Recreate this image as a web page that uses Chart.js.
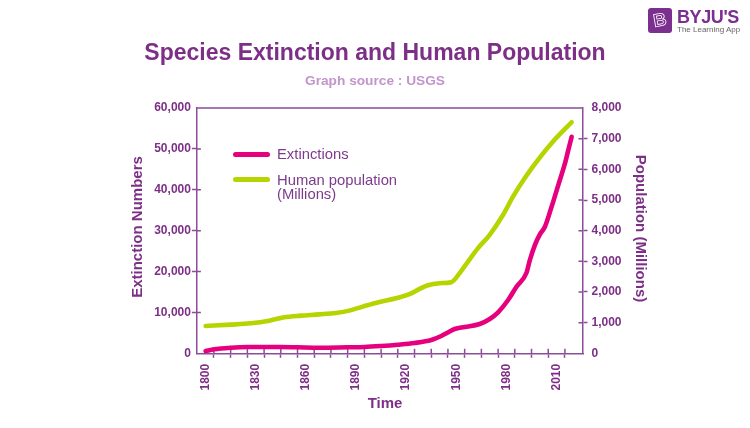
<!DOCTYPE html>
<html>
<head>
<meta charset="utf-8">
<title>Species Extinction and Human Population</title>
<script src="https://cdn.jsdelivr.net/npm/chart.js@4/dist/chart.umd.min.js"></script>
<style>
    html, body { margin: 0; padding: 0; background: #fff; }
    #wrap { position: relative; width: 750px; height: 428px; overflow: hidden; font-family: "Liberation Sans", Arial, sans-serif; }
    canvas { position: absolute; left: 0; top: 0; }
    .swatch { position: absolute; left: 233px; width: 37px; height: 5px; border-radius: 3px; }
    .legend-text { position: absolute; left: 277px; font-size: 14.8px; line-height: 14px; color: #7d3a8c; white-space: nowrap; }
    #logo-box { position: absolute; left: 648px; top: 8px; width: 24px; height: 25px; border-radius: 3px; background: #7b2f8e; }
    #logo-b { position: absolute; left: 0; top: 0; width: 24px; text-align: center; font: bold 18px/25px "Liberation Sans"; color: transparent; -webkit-text-stroke: 0.8px #fff; transform: rotate(-10deg); }
    #logo-name { position: absolute; left: 677px; top: 7px; font: bold 18px/20px "Liberation Sans"; color: #7b2f8e; letter-spacing: -0.4px; }
    #logo-sub { position: absolute; left: 677px; top: 25px; font: 8px/10px "Liberation Sans"; color: #666; }
</style>
</head>
<body>
<div id="wrap">
    <canvas id="chart" width="750" height="428"></canvas>
    <div class="swatch" style="top:152px;background:#e6007e"></div>
    <div class="legend-text" style="top:147px">Extinctions</div>
    <div class="swatch" style="top:177px;background:#b5d400"></div>
    <div class="legend-text" style="top:173px">Human population<br>(Millions)</div>
    <div id="logo-box"><div id="logo-b">B</div></div>
    <div id="logo-name">BYJU'S</div>
    <div id="logo-sub">The Learning App</div>
</div>
<script>
const extinctionYears = [1800, 1805, 1815, 1825, 1845, 1855, 1868, 1885, 1895, 1905, 1915, 1925, 1935, 1941, 1945, 1949, 1955, 1964, 1970, 1975, 1981, 1986, 1992, 1994, 1997, 2000, 2003, 2007, 2011, 2015, 2017, 2019];
const extinctionValues = [560, 980, 1370, 1540, 1540, 1470, 1370, 1470, 1540, 1780, 2100, 2520, 3250, 4230, 5100, 5940, 6430, 7160, 8390, 10020, 13030, 16280, 19700, 22800, 26480, 29100, 30950, 35840, 41150, 46450, 49700, 52960];

const populationYears = [1800, 1815, 1827, 1838, 1847, 1857, 1868, 1878, 1886, 1894, 1904, 1914, 1922, 1928, 1933, 1940, 1947, 1952, 1957, 1963, 1970, 1978, 1984, 1991, 1999, 2008, 2019];
const populationValues = [892, 935, 980, 1065, 1176, 1229, 1270, 1317, 1392, 1523, 1676, 1797, 1928, 2101, 2222, 2287, 2320, 2614, 2993, 3431, 3866, 4520, 5118, 5719, 6317, 6915, 7536];

// label sits mid band, tick marks on the band edges
const xLabelYears = [1800, 1830, 1860, 1890, 1920, 1950, 1980, 2010];
const xTickYears = [1805, 1815, 1825, 1835, 1845, 1855, 1865, 1875, 1885, 1895, 1905, 1915, 1925, 1935, 1945, 1955, 1965, 1975, 1985, 1995, 2005, 2015];

const purple = "#7d2f87";
const axisPurple = "#8b4c98";
const tickFont = { family: "Liberation Sans", size: 12, weight: "bold" };

function toPoints(xs, ys) {
    return xs.map((x, i) => ({ x: x, y: ys[i] }));
}

function yTickColor(top) {
    return ctx => (ctx.tick.value === top || ctx.tick.value === 0 ? "transparent" : axisPurple);
}

// top border and the part of each tick that crosses into the plot
const framePlugin = {
    id: "frame",
    beforeDatasetsDraw(chart) {
        const { ctx, chartArea, scales } = chart;
        ctx.save();
        ctx.strokeStyle = axisPurple;
        ctx.lineWidth = 1.5;
        ctx.beginPath();
        ctx.moveTo(chartArea.left, chartArea.top);
        ctx.lineTo(chartArea.right, chartArea.top);
        xTickYears.forEach(v => {
            const px = scales.x.getPixelForValue(v);
            ctx.moveTo(px, chartArea.bottom);
            ctx.lineTo(px, chartArea.bottom - 4.5);
        });
        scales.y.ticks.forEach(t => {
            if (t.value === 0 || t.value === 60000) return;
            const py = scales.y.getPixelForValue(t.value);
            ctx.moveTo(chartArea.left, py);
            ctx.lineTo(chartArea.left + 4.5, py);
        });
        scales.y2.ticks.forEach(t => {
            if (t.value === 0 || t.value === 8000) return;
            const py = scales.y2.getPixelForValue(t.value);
            ctx.moveTo(chartArea.right, py);
            ctx.lineTo(chartArea.right - 4.5, py);
        });
        ctx.stroke();
        ctx.restore();
    },
    // axis titles sit off centre in the original, so they are placed by hand
    afterDraw(chart) {
        const { ctx } = chart;
        ctx.save();
        ctx.fillStyle = purple;
        ctx.font = 'bold 15px "Liberation Sans"';
        ctx.textAlign = "center";
        ctx.textBaseline = "middle";
        ctx.fillText("Time", 385, 404);
        ctx.translate(138, 227);
        ctx.rotate(-Math.PI / 2);
        ctx.fillText("Extinction Numbers", 0, 0);
        ctx.rotate(Math.PI / 2);
        ctx.translate(640 - 138, 228.5 - 227);
        ctx.rotate(Math.PI / 2);
        ctx.fillText("Population (Millions)", 0, 0);
        ctx.restore();
    }
};

new Chart(document.getElementById("chart"), {
    type: "line",
    data: {
        datasets: [
            {
                label: "Extinctions",
                data: toPoints(extinctionYears, extinctionValues),
                borderColor: "#e6007e",
                yAxisID: "y"
            },
            {
                label: "Human population (Millions)",
                data: toPoints(populationYears, populationValues),
                borderColor: "#b5d400",
                yAxisID: "y2"
            }
        ]
    },
    options: {
        responsive: false,
        animation: false,
        layout: { padding: { left: 100, right: 100, top: 0, bottom: 0 } },
        elements: {
            point: { radius: 0 },
            line: { borderWidth: 4.6, borderCapStyle: "round", borderJoinStyle: "round", cubicInterpolationMode: "monotone" }
        },
        plugins: {
            legend: { display: false },
            tooltip: { enabled: false },
            title: {
                display: true,
                text: "Species Extinction and Human Population",
                color: purple,
                font: { family: "Liberation Sans", size: 23, weight: "bold" },
                padding: { top: 40, bottom: 0 }
            },
            subtitle: {
                display: true,
                text: "Graph source : USGS",
                color: "#c295cc",
                font: { family: "Liberation Sans", size: 13.7, weight: "bold" },
                padding: { top: 5.2, bottom: 18.8 }
            }
        },
        scales: {
            x: {
                type: "linear",
                min: 1794.5,
                max: 2025.8,
                afterBuildTicks: axis => {
                    axis.ticks = xTickYears.concat(xLabelYears).sort((a, b) => a - b).map(v => ({ value: v }));
                },
                afterFit: axis => { axis.height = 74.7; },
                border: { color: axisPurple, width: 1.5 },
                grid: {
                    drawOnChartArea: false,
                    tickLength: 4.5,
                    tickWidth: 1.5,
                    tickColor: ctx => (xLabelYears.includes(ctx.tick.value) ? "transparent" : axisPurple)
                },
                ticks: {
                    autoSkip: false,
                    minRotation: 90,
                    maxRotation: 90,
                    padding: 6,
                    color: purple,
                    font: tickFont,
                    callback: v => (xLabelYears.includes(v) ? String(v) : "")
                }
            },
            y: {
                position: "left",
                min: 0,
                max: 60000,
                afterFit: axis => { axis.width = 96.4; },
                border: { color: axisPurple, width: 1.5 },
                grid: { drawOnChartArea: false, tickLength: 4.5, tickWidth: 1.5, tickColor: yTickColor(60000) },
                ticks: {
                    stepSize: 10000,
                    padding: 1,
                    color: purple,
                    font: tickFont,
                    callback: v => v.toLocaleString("en-US")
                }
            },
            y2: {
                position: "right",
                min: 0,
                max: 8000,
                afterFit: axis => { axis.width = 67; },
                border: { color: axisPurple, width: 1.5 },
                grid: { drawOnChartArea: false, tickLength: 4.5, tickWidth: 1.5, tickColor: yTickColor(8000) },
                ticks: {
                    stepSize: 1000,
                    padding: 4,
                    color: purple,
                    font: tickFont,
                    callback: v => v.toLocaleString("en-US")
                }
            }
        }
    },
    plugins: [framePlugin]
});
</script>
</body>
</html>
